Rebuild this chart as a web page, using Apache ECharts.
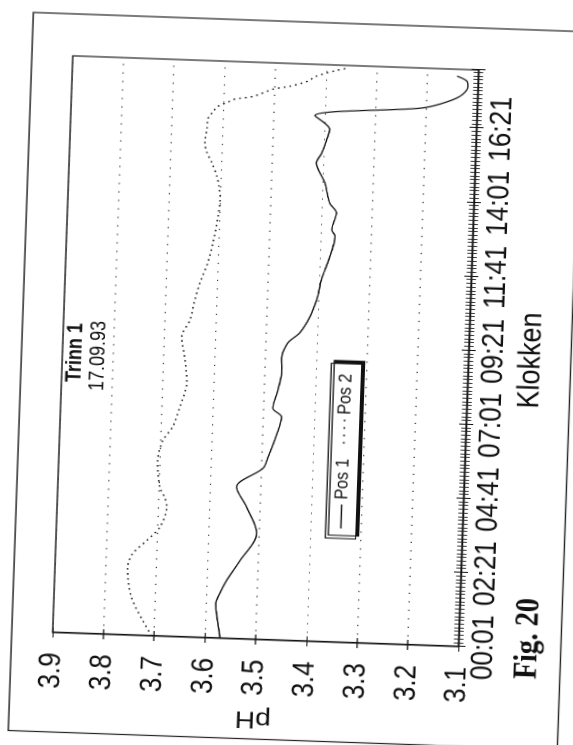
<!DOCTYPE html>
<html><head><meta charset="utf-8">
<script src="https://cdn.jsdelivr.net/npm/echarts@6/dist/echarts.min.js"></script>
<style>
html,body{margin:0;padding:0;width:573px;height:745px;overflow:hidden;background:#fff;}
#chart{position:absolute;left:-86px;top:127.5px;width:745px;height:490px;transform-origin:50% 50%;transform:rotate(-88deg) scaleY(1.17);}
</style></head><body><div id="chart"></div>
<script>
// Tick labels
const timeTickLabels = ['00:01','02:21','04:41','07:01','09:21','11:41','14:01','16:21'];
const phTickLabels = ['3.1','3.2','3.3','3.4','3.5','3.6','3.7','3.8','3.9'];
// Series: minutes after 00:01 and pH
const seriesNames = ['Pos 1','Pos 2'];
const pos1Time = [0,49,65,84,110,148,200,250,287,324,345,378,422,438,473,507,533,562,582,613,645,658,684,728,766,779,811,829,867,904,923,949,968,993,1014,1023,1039,1057,1068,1077];
const pos1PH   = [3.570,3.579,3.581,3.574,3.561,3.536,3.505,3.527,3.548,3.497,3.488,3.476,3.464,3.482,3.473,3.467,3.468,3.457,3.434,3.415,3.403,3.400,3.395,3.380,3.371,3.378,3.370,3.384,3.395,3.413,3.403,3.394,3.389,3.419,3.213,3.174,3.135,3.120,3.122,3.142];
const pos2Time = [0,28,71,128,154,180,206,244,263,281,332,370,396,434,480,523,567,599,637,670,708,746,796,828,853,872,898,916,935,960,979,994,1004,1012,1019,1025,1040,1047,1057,1068,1080,1085];
const pos2PH   = [3.705,3.723,3.747,3.757,3.748,3.721,3.696,3.684,3.689,3.699,3.705,3.696,3.678,3.665,3.653,3.658,3.666,3.651,3.643,3.634,3.620,3.611,3.603,3.600,3.603,3.608,3.619,3.629,3.634,3.631,3.630,3.620,3.611,3.593,3.578,3.543,3.504,3.470,3.437,3.418,3.379,3.357];

const FONT = '"Liberation Sans", Arial, Helvetica, sans-serif';
const SERIF = '"Liberation Serif", "Times New Roman", serif';
const INK = '#111';
const chart = echarts.init(document.getElementById('chart'), null, {devicePixelRatio: 2});

const tMax = 1090, tStep = 140;
const timeFmt = v => { const i = Math.round(v / tStep); return (Math.abs(v - i * tStep) < 0.5 && timeTickLabels[i]) ? timeTickLabels[i] : ''; };
const phFmt = v => phTickLabels[Math.round((v - 3.1) / 0.1)] || '';

const lineIcon = 'path://M0,0H24V1.3H0Z';
const dotIcon = 'path://M0,0H1.6V1.6H0Z M7.4,0H9V1.6H7.4Z M14.8,0H16.4V1.6H14.8Z M22.4,0H24V1.6H22.4Z';

chart.setOption({
  animation: false,
  backgroundColor: '#fff',
  title: [
    {text: 'Trinn 1', left: 356, top: 55, padding: 0, textStyle: {fontSize: 18, fontWeight: 'bold', color: INK, fontFamily: FONT}},
    {text: '17.09.93', left: 348, top: 75, padding: 0, textStyle: {fontSize: 18, fontWeight: 'normal', color: INK, fontFamily: FONT}},
    {text: 'Fig. 20', left: 75, top: 446, padding: 0, textStyle: {fontSize: 28, fontWeight: 'bold', color: INK, fontFamily: SERIF}}
  ],
  graphic: [
    {type: 'rect', shape: {x: 5.5, y: 18, width: 718.5, height: 469.5}, style: {fill: 'none', stroke: '#222', lineWidth: 1.2}, silent: true, z: -1}
  ],
  legend: {
    data: [{name: seriesNames[0], icon: lineIcon}, {name: seriesNames[1], icon: dotIcon}],
    left: 209, top: 283, orient: 'horizontal', symbolKeepAspect: true,
    padding: [5, 10], itemGap: 15, itemWidth: 24, itemHeight: 14,
    backgroundColor: '#fff', borderColor: INK, borderWidth: 1,
    shadowColor: '#111', shadowBlur: 0, shadowOffsetX: 3, shadowOffsetY: 2.5,
    textStyle: {fontSize: 16, color: INK, fontFamily: FONT}
  },
  grid: {left: 105, right: 63, top: 53, bottom: 90, show: true, borderColor: '#222', borderWidth: 1.2, backgroundColor: 'transparent', containLabel: false},
  xAxis: [
    {type: 'value', min: 0, max: tMax, interval: tStep, position: 'bottom',
     axisLine: {show: true, lineStyle: {color: INK, width: 1.2}},
     axisTick: {show: true, length: 6, lineStyle: {color: INK, width: 1}},
     minorTick: {show: true, splitNumber: 20, length: 4, lineStyle: {color: '#222', width: 0.9}},
     axisLabel: {margin: 9, fontSize: 26, color: INK, fontFamily: FONT, formatter: timeFmt, showMaxLabel: false, showMinLabel: true, hideOverlap: false},
     splitLine: {show: false},
     name: 'Klokken', nameLocation: 'middle', nameGap: 32,
     nameTextStyle: {fontSize: 27, color: INK, fontFamily: FONT}},
    {type: 'value', min: 0, max: tMax, interval: tStep, position: 'bottom',
     axisLine: {show: false},
     axisTick: {show: true, inside: true, length: 6, lineStyle: {color: INK, width: 1}},
     minorTick: {show: true, splitNumber: 20, length: 4, lineStyle: {color: '#222', width: 0.9}},
     axisLabel: {show: false}, splitLine: {show: false}}
  ],
  yAxis: [
    {type: 'value', min: 3.1, max: 3.9, interval: 0.1, position: 'left',
     axisLine: {show: true, lineStyle: {color: INK, width: 1.2}},
     axisTick: {show: true, length: 5, lineStyle: {color: INK, width: 1}},
     axisLabel: {margin: 20, fontSize: 26, color: INK, fontFamily: FONT, formatter: phFmt},
     splitLine: {show: true, lineStyle: {color: '#333', width: 1.1, type: [1.2, 7.3]}},
     name: 'pH', nameLocation: 'middle', nameGap: 63, nameRotate: 90,
     nameTextStyle: {fontSize: 24, color: INK, fontFamily: FONT}},
    {type: 'value', min: 3.1, max: 3.9, interval: 0.1, position: 'left',
     axisLine: {show: false},
     axisTick: {show: true, inside: true, length: 5, lineStyle: {color: INK, width: 1}},
     axisLabel: {show: false}, splitLine: {show: false}}
  ],
  series: [
    {name: seriesNames[0], type: 'line', xAxisIndex: 0, yAxisIndex: 0,
     data: pos1Time.map((t, i) => [t, pos1PH[i]]),
     symbol: 'none', smooth: 0.3, z: 3,
     lineStyle: {color: INK, width: 1.2}, itemStyle: {color: INK}},
    {name: seriesNames[1], type: 'line', xAxisIndex: 0, yAxisIndex: 0,
     data: pos2Time.map((t, i) => [t, pos2PH[i]]),
     symbol: 'none', smooth: 0.3, z: 3,
     lineStyle: {color: '#222', width: 1.4, type: [1.5, 3.5]}, itemStyle: {color: '#222'}}
  ]
});
</script>
</body></html>
